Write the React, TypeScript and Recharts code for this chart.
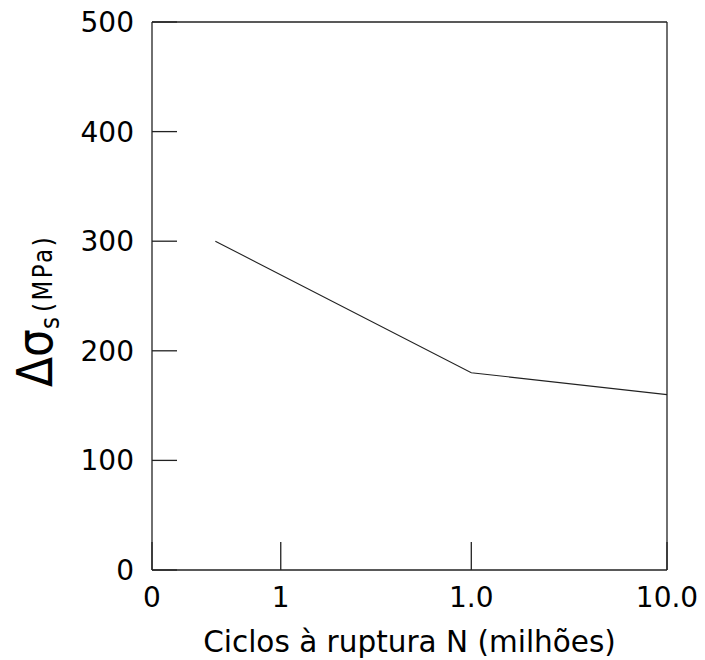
import React from 'react';
import { LineChart, Line, XAxis, YAxis, ReferenceLine } from 'recharts';

// position along the (non-uniform) cycles axis, 0..10
const xTickPos = [0, 2.5, 6.2, 10];
const xTickLabels = ['0', '1', '1.0', '10.0'];
const yTicks = [0, 100, 200, 300, 400, 500];

const cyclePos = [1.23, 6.2, 10];
const stressRange = [300, 180, 160];

const data = cyclePos.map((x, i) => ({ x, stress: stressRange[i] }));

const FONT = '"DejaVu Sans", sans-serif';
const AXIS = '#222';

const YTitle = () => (
  <text
    transform="translate(52,387) rotate(-90) scale(1,1.12)"
    fontFamily={FONT}
    fill="#000"
  >
    <tspan fontSize={44}>Δσ</tspan>
    <tspan fontSize={23} dy={6}>s</tspan>
    <tspan fontSize={23} dx={5} dy={-6} letterSpacing={2.5}>(MPa)</tspan>
  </text>
);

const App: React.FC = () => {
  const labelFor = (v: number) => {
    const i = xTickPos.indexOf(v);
    return i >= 0 ? xTickLabels[i] : '';
  };

  return (
    <div style={{ position: 'absolute', left: 0, top: 0, background: '#fff' }}>
      <LineChart width={705} height={660} data={data} margin={{ top: 22, right: 38, left: 0, bottom: 0 }}>
        <XAxis
          dataKey="x"
          type="number"
          domain={[0, 10]}
          ticks={xTickPos}
          interval={0}
          tickFormatter={labelFor}
          height={90}
          tickSize={-28}
          tickMargin={45}
          axisLine={{ stroke: AXIS, strokeWidth: 1.3 }}
          tickLine={{ stroke: AXIS, strokeWidth: 1.3 }}
          tick={{ fill: '#000', fontSize: 28, fontFamily: FONT }}
          label={{
            value: 'Ciclos à ruptura N (milhões)',
            position: 'insideBottom',
            offset: 8,
            fill: '#000',
            fontSize: 29.5,
            fontFamily: FONT,
          }}
        />
        <YAxis
          type="number"
          domain={[0, 500]}
          ticks={yTicks}
          interval={0}
          width={152}
          tickSize={-25}
          tickMargin={43}
          axisLine={{ stroke: AXIS, strokeWidth: 1.3 }}
          tickLine={{ stroke: AXIS, strokeWidth: 1.3 }}
          tick={{ fill: '#000', fontSize: 28, fontFamily: FONT }}
          label={{ content: () => <YTitle /> }}
        />
        <ReferenceLine y={500} stroke={AXIS} strokeWidth={1.3} />
        <ReferenceLine x={10} stroke={AXIS} strokeWidth={1.3} />
        <Line
          type="linear"
          dataKey="stress"
          stroke="#222"
          strokeWidth={1.1}
          dot={false}
          activeDot={false}
          isAnimationActive={false}
        />
      </LineChart>
    </div>
  );
};

export default App;
